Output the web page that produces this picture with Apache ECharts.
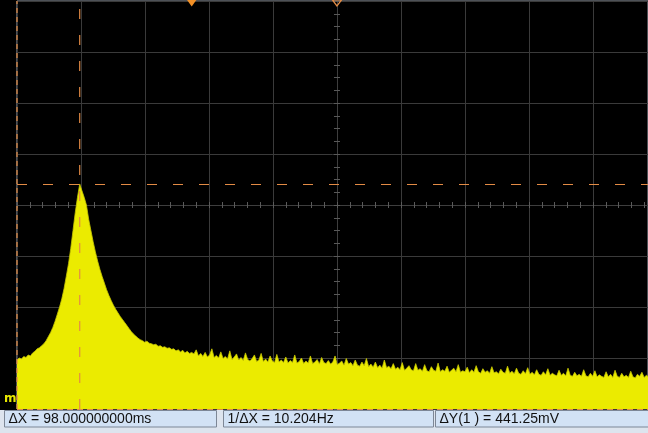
<!DOCTYPE html>
<html>
<head>
<meta charset="utf-8">
<script src="https://cdn.jsdelivr.net/npm/echarts@6/dist/echarts.min.js"></script>
<style>
  html, body { margin: 0; padding: 0; background: #000; }
  #chart { width: 648px; height: 433px; }
</style>
</head>
<body>
<div id="chart"></div>
<script>
// Sample spacing of the acquired record (ms per sample)
const sampleStepMs = 3.5;

// Channel 1 level for each sample (mV)
const ch1LevelMv = [
  96, 100, 98, 103, 101, 106, 104, 110, 113,
  118, 120, 124, 128, 134, 142, 150, 160, 172, 186,
  200, 216, 236, 260, 285, 315, 350, 385, 415, 441.25,
  428, 415, 400, 372, 350, 328, 308, 290, 274, 260,
  247, 234, 223, 213, 204, 196, 189, 182, 176, 170,
  164, 158, 152, 147, 143, 139, 136,
  134, 131, 133, 129,
  128, 126, 127, 123, 124, 121, 122, 119, 120, 117,
  118, 114, 116, 112, 115, 110, 113, 109, 111, 108,
  116, 104, 109, 103, 111, 102, 106, 118, 101, 105,
  100, 112, 99, 103, 98, 114, 97, 102, 108, 96,
  101, 95, 110, 97, 94, 99, 106, 93, 96, 109,
  93, 98, 92, 104, 94, 91, 107, 92, 96, 91,
  102, 90, 95, 91, 106, 90, 93, 100, 89, 94,
  90, 104, 89, 92, 97, 88, 101, 91, 89, 95,
  88, 92, 104, 87, 90, 94, 86, 99, 88, 91,
  85, 96, 86, 84, 92, 85, 99, 83, 88, 82,
  92, 81, 86, 80, 96, 81, 84, 79, 89, 78,
  82, 77, 91, 76, 80, 85, 77, 75, 89, 76,
  79, 74, 87, 75, 73, 83, 76, 74, 90, 73,
  77, 74, 84, 72, 76, 80, 73, 87, 72, 75,
  73, 82, 71, 77, 72, 85, 73, 70, 79, 72,
  75, 70, 83, 71, 73, 69, 78, 72, 70, 84,
  70, 74, 69, 80, 70, 68, 75, 69, 81, 68,
  72, 67, 77, 68, 66, 73, 67, 79, 66, 70,
  67, 65, 76, 66, 70, 65, 80, 66, 64, 72,
  65, 68, 64, 77, 65, 63, 70, 64, 75, 63,
  67, 64, 62, 73, 63, 68, 62, 76, 64, 62,
  70, 63, 66, 62, 74, 63, 61, 68, 64, 72,
  62, 66, 63
];

// Cursor settings
const cursorXMs = [0, 98];        // X1, X2 (ms)
const cursorYMv = [0, 441.25];    // Y1, Y2 (mV)

// Visible screen span (100 ms/div horizontally, 100 mV/div vertically)
const timeSpanMs = [0, 986];
const levelSpanMv = [0, 800];
const timePerDivMs = 100;
const levelPerDivMv = 100;
const screenCentreMs = 500;
const screenCentreMv = 400;

// Markers along the top edge (ms)
const triggerMarkMs = 273;
const delayRefMs = 500;

const orange = '#e38b45';
const gridRect = { left: 17, top: 1, right: 0, bottom: 24 };

const deltaXMs = cursorXMs[1] - cursorXMs[0];
const deltaYMv = cursorYMv[1] - cursorYMv[0];
const readouts = [
  'ΔX = ' + deltaXMs.toFixed(9) + 'ms',
  '1/ΔX = ' + (1000 / deltaXMs).toFixed(3) + 'Hz',
  'ΔY(1 ) = ' + deltaYMv.toFixed(2) + 'mV'
];

const traceData = ch1LevelMv.map((v, i) => [i * sampleStepMs, v]);

const chart = echarts.init(document.getElementById('chart'), null, { renderer: 'canvas' });

const readoutBoxes = [
  { x: 4.5, w: 212 },
  { x: 223.5, w: 210 },
  { x: 435.5, w: 216 }
];

const graphics = [
  { type: 'rect', shape: { x: 0, y: 410, width: 648, height: 23 },
    style: { fill: '#dde4ee' }, z: 100 }
];
readoutBoxes.forEach((b, k) => {
  graphics.push({ type: 'rect', shape: { x: b.x, y: 410.5, width: b.w, height: 16.5 },
    style: { fill: '#d2e2f5', stroke: '#7d8796', lineWidth: 1 }, z: 101 });
  graphics.push({ type: 'text', x: b.x + 4, y: 419,
    style: { text: readouts[k], fill: '#111', font: '14px "Liberation Sans", Arial, sans-serif',
      textVerticalAlign: 'middle' }, z: 102 });
});
// channel 1 ground-reference tag in the left margin
graphics.push({ type: 'text', x: 4, y: 399,
  style: { text: 'm', fill: '#e6e600', font: 'bold 12px "DejaVu Sans", sans-serif',
    textVerticalAlign: 'middle' }, z: 50 });

// Centre cross-hair axes (own grid, zero placed at screen centre)
const centreX = [timeSpanMs[0] - screenCentreMs, timeSpanMs[1] - screenCentreMs];
const centreY = [levelSpanMv[0] - screenCentreMv, levelSpanMv[1] - screenCentreMv];
const tickStyle = { color: '#5a5a5a' };

function centreXAxis(inside, showLine) {
  return {
    type: 'value', gridIndex: 1, position: 'bottom',
    min: centreX[0], max: centreX[1], interval: timePerDivMs,
    axisLabel: { show: false }, splitLine: { show: false },
    axisLine: { show: showLine, onZero: true, lineStyle: { color: '#3e3e3e' } },
    axisTick: { show: true, inside: inside, length: 3, lineStyle: tickStyle },
    minorTick: { show: true, splitNumber: 5, length: 3, lineStyle: tickStyle }
  };
}
function centreYAxis(inside, showLine) {
  return {
    type: 'value', gridIndex: 1, position: 'left',
    min: centreY[0], max: centreY[1], interval: levelPerDivMv,
    axisLabel: { show: false }, splitLine: { show: false },
    axisLine: { show: showLine, onZero: true, lineStyle: { color: '#3e3e3e' } },
    axisTick: { show: true, inside: inside, length: 3, lineStyle: tickStyle },
    minorTick: { show: true, splitNumber: 4, length: 3, lineStyle: tickStyle }
  };
}

// Vertical cursor drawn as a two-point line spanning the screen height
function xCursorSeries(name, t, dash) {
  return {
    name: name, type: 'line', xAxisIndex: 0, yAxisIndex: 0,
    data: [[t, levelSpanMv[0]], [t, levelSpanMv[1]]],
    showSymbol: false, symbol: 'none', silent: true, z: 5,
    lineStyle: { color: orange, width: 1.2, type: dash, opacity: 1 },
    clip: false
  };
}

chart.setOption({
  animation: false,
  backgroundColor: '#000',
  grid: [
    Object.assign({ show: true, borderColor: '#9aa2ae', borderWidth: 1, backgroundColor: '#000' }, gridRect),
    Object.assign({ show: false }, gridRect)
  ],
  xAxis: [
    {
      type: 'value', gridIndex: 0,
      min: timeSpanMs[0], max: timeSpanMs[1], interval: timePerDivMs,
      axisLine: { show: false }, axisTick: { show: false }, axisLabel: { show: false },
      splitLine: { show: true, lineStyle: { color: '#3a3a3a', width: 1 } }
    },
    centreXAxis(false, true),
    centreXAxis(true, false)
  ],
  yAxis: [
    {
      type: 'value', gridIndex: 0,
      min: levelSpanMv[0], max: levelSpanMv[1], interval: levelPerDivMv,
      axisLine: { show: false }, axisTick: { show: false }, axisLabel: { show: false },
      splitLine: { show: true, lineStyle: { color: '#3a3a3a', width: 1 } }
    },
    centreYAxis(false, true),
    centreYAxis(true, false)
  ],
  graphic: graphics,
  series: [
    {
      name: 'CH1',
      type: 'line',
      xAxisIndex: 0, yAxisIndex: 0,
      data: traceData,
      showSymbol: false,
      symbol: 'none',
      sampling: null,
      z: 2,
      lineStyle: { color: '#c6c600', width: 0.8 },
      areaStyle: { color: '#ebeb00', opacity: 1, origin: 'start' },
      markLine: {
        silent: true,
        symbol: 'none',
        animation: false,
        label: { show: false },
        lineStyle: { color: orange, width: 1.2, type: [10, 16], opacity: 1 },
        data: [
          { yAxis: cursorYMv[1], lineStyle: { color: orange, width: 1.2, type: [10, 16], opacity: 1 } },
          { yAxis: cursorYMv[0], lineStyle: { color: orange, width: 1.2, type: [6, 4], opacity: 1 } }
        ]
      },
      markPoint: {
        silent: true,
        animation: false,
        label: { show: false },
        data: [
          { coord: [triggerMarkMs, levelSpanMv[1]], symbol: 'triangle', symbolRotate: 180,
            symbolSize: [10, 7], symbolOffset: [0, 2], itemStyle: { color: '#f29026' } },
          { coord: [delayRefMs, levelSpanMv[1]], symbol: 'triangle', symbolRotate: 180,
            symbolSize: [9, 6], symbolOffset: [0, 2],
            itemStyle: { color: 'rgba(0,0,0,0)', borderColor: orange, borderWidth: 1.2 } }
        ]
      }
    },
    xCursorSeries('X1', cursorXMs[0], [5, 4]),
    xCursorSeries('X2', cursorXMs[1], [10, 16])
  ]
});
</script>
</body>
</html>
